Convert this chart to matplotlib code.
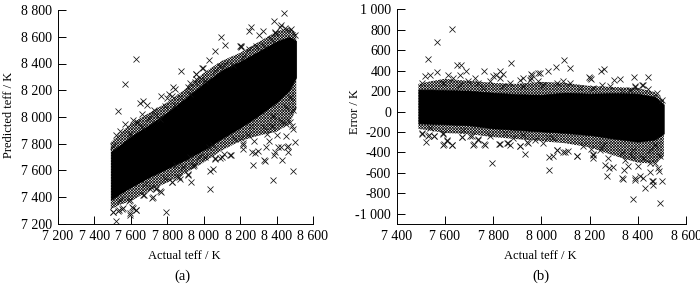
import matplotlib
matplotlib.use('Agg')
import matplotlib.pyplot as plt
import numpy as np

plt.rcParams['font.family'] = ['Liberation Serif', 'DejaVu Serif']
plt.rcParams['hatch.linewidth'] = 0.5

band_teff = [7490, 7550, 7600, 7700, 7800, 7900, 8000, 8100, 8200, 8300, 8400, 8470, 8508]
solid_upper_a = [250, 250, 255, 240, 235, 240, 250, 250, 215, 190, 165, 130, 60]
solid_lower_a = [-110, -115, -125, -150, -185, -220, -245, -260, -280, -290, -290, -270, -210]
fringe_upper_a = [320, 340, 350, 330, 310, 310, 330, 320, 280, 260, 240, 200, 120]
fringe_lower_a = [-180, -200, -230, -250, -290, -320, -340, -350, -380, -440, -510, -520, -450]
solid_upper_b = [215, 215, 210, 205, 185, 170, 165, 185, 175, 180, 175, 145, 70]
solid_lower_b = [-115, -120, -125, -135, -165, -180, -195, -210, -230, -265, -295, -275, -215]
fringe_upper_b = [270, 300, 320, 300, 280, 270, 290, 280, 250, 240, 230, 190, 110]
fringe_lower_b = [-170, -190, -210, -220, -250, -270, -290, -310, -350, -430, -500, -510, -440]

# single crosses outside the band
outlier_teff = [7529, 7567, 7630, 7652, 7668, 7688, 7764, 7829, 7842, 7811, 7873, 8093, 8119, 8061, 8028,
                7988, 7956, 7957, 7925, 8198, 8207, 8246, 8261, 8303, 8326, 8384, 8441, 8419, 8390,
                7504, 7533, 7520, 7553, 7591, 7596, 7610, 7630, 7670, 7704, 7721, 7737, 7762, 7794, 7824,
                7856, 7871, 7913, 7931, 7946, 8033, 8033, 8050, 8064, 8091, 8112, 8148, 8207, 8216, 8216,
                8264, 8272, 8282, 8296, 8337, 8343, 8379, 8387, 8423, 8429, 8452, 8462, 8462, 8492, 8499,
                8489, 8471]
outlier_error = [518, 681, 805, 453, 453, 400, 394, 397, 365, 358, 472, 505, 423, 436, 397,
                 375, 368, 326, 326, 335, 316, 400, 414, 309, 319, 335, 335, 257, 238,
                 -218, -225, -300, -244, -218, -316, -287, -329, -251, -241, -319, -270, -316, -502, -313,
                 -303, -332, -336, -420, -303, -570, -440, -436, -375, -400, -388, -430, -362, -456, -414,
                 -524, -629, -554, -547, -664, -570, -853, -668, -651, -749, -593, -723, -677, -896, -684,
                 -577, -505]

# crosses on the rough edge of the band
edge_teff = [7566, 7517, 7538, 7614, 7635, 7662, 7725, 7738, 7697, 7787, 7828, 7870, 7911, 7960, 7994,
             7953, 7987, 7503, 7593, 7662, 7759, 7842, 7925, 8008, 7801,
             7503, 7531, 7555, 7593, 7607, 7593, 7628, 7669, 7711, 7738, 7718, 7766, 7787, 7828, 7863,
             7884, 7911, 7939, 7974, 8008, 8029, 7849, 7676, 7538, 7925,
             8091, 8119, 8202, 8250, 8285, 8333, 8389, 8423, 8444, 8479, 8499, 8216, 8368, 8064, 8160,
             8050, 8064, 8098, 8147, 8174, 8216, 8243, 8278, 8257, 8347, 8375, 8402, 8451, 8485, 8423,
             8492, 8333, 8382, 8451, 8472, 8409, 8361, 8389, 8458, 8333]
edge_error = [382, 350, 360, 360, 327, 360, 327, 278, 294, 294, 327, 278, 311, 360, 376,
              311, 294, 278, 278, 262, 229, 245, 245, 262, 343,
              -211, -237, -237, -211, -283, -325, -325, -250, -237, -276, -325, -325, -244, -315, -309,
              -260, -341, -302, -276, -309, -250, -211, -178, -162, -227,
              294, 278, 327, 262, 245, 196, 245, 262, 219, 180, 115, 229, 213, 278, 229,
              -260, -374, -400, -433, -341, -423, -374, -456, -325, -472, -439, -537, -504, -553, -456,
              -439, -407, -374, -374, -325, -635, -537, -651, -684, -651]

xticks_a = [7200, 7400, 7600, 7800, 8000, 8200, 8400, 8600]
yticks_a = [7200, 7400, 7600, 7800, 8000, 8200, 8400, 8600, 8800]
xticks_b = [7400, 7600, 7800, 8000, 8200, 8400, 8600]
yticks_b = [-1000, -800, -600, -400, -200, 0, 200, 400, 600, 800, 1000]


def spaced(v):
    # thousands split with a space, the way the paper prints them
    return f'{v:,}'.replace(',', ' ')


def draw(ax, predicted, solid_up, solid_low, fringe_up, fringe_low):
    band = np.array(band_teff) if predicted else 0
    ax.fill_between(band_teff, np.array(fringe_low) + band, np.array(fringe_up) + band,
                    facecolor='white', edgecolor='#111111', hatch='xxxxxxxxxxxx', linewidth=0)
    ax.fill_between(band_teff, np.array(solid_low) + band, np.array(solid_up) + band,
                    facecolor='black', edgecolor='black', linewidth=0.4)
    for xs, es in [(edge_teff, edge_error), (outlier_teff, outlier_error)]:
        shift = np.array(xs) if predicted else 0
        ax.plot(xs, np.array(es) + shift, 'x', color='#111111',
                markersize=3.9, markeredgewidth=0.55, clip_on=False)


W, H = 700, 284
fig = plt.figure(figsize=(7, 2.84), dpi=100)

ax1 = fig.add_axes([58 / W, 1 - 224 / H, 255 / W, 214 / H])
draw(ax1, True, solid_upper_a, solid_lower_a, fringe_upper_a, fringe_lower_a)
ax2 = fig.add_axes([396.7 / W, 1 - 224 / H, 289.3 / W, 214.7 / H])
draw(ax2, False, solid_upper_b, solid_lower_b, fringe_upper_b, fringe_lower_b)

ax1.set_xlim(7200, 8600)
ax1.set_ylim(7200, 8800)
ax1.set_xticks(xticks_a, [spaced(v) for v in xticks_a])
ax1.set_yticks(yticks_a, [spaced(v) for v in yticks_a])

ax2.set_xlim(7400, 8600)
ax2.set_ylim(-1100, 1000)
ax2.set_xticks(xticks_b, [spaced(v) for v in xticks_b])
ax2.set_yticks(yticks_b, [spaced(v) for v in yticks_b])

for ax in (ax1, ax2):
    ax.spines['top'].set_visible(False)
    ax.spines['right'].set_visible(False)
    ax.spines['left'].set_linewidth(0.7)
    ax.spines['bottom'].set_linewidth(0.7)
    ax.tick_params(direction='in', length=6, width=0.7, labelsize=10, pad=4)

fig.text(184 / W, 1 - 256 / H, 'Actual teff / K', ha='center', va='center', fontsize=9)
fig.text(182 / W, 1 - 276 / H, '(a)', ha='center', va='center', fontsize=10.5)
fig.text(9 / W, 1 - 115 / H, 'Predicted teff / K', ha='center', va='center', rotation=90, fontsize=9)
fig.text(540 / W, 1 - 256 / H, 'Actual teff / K', ha='center', va='center', fontsize=9)
fig.text(541 / W, 1 - 276 / H, '(b)', ha='center', va='center', fontsize=10.5)
fig.text(355 / W, 1 - 112 / H, 'Error / K', ha='center', va='center', rotation=90, fontsize=9)

fig.savefig('out.png', dpi=100)
